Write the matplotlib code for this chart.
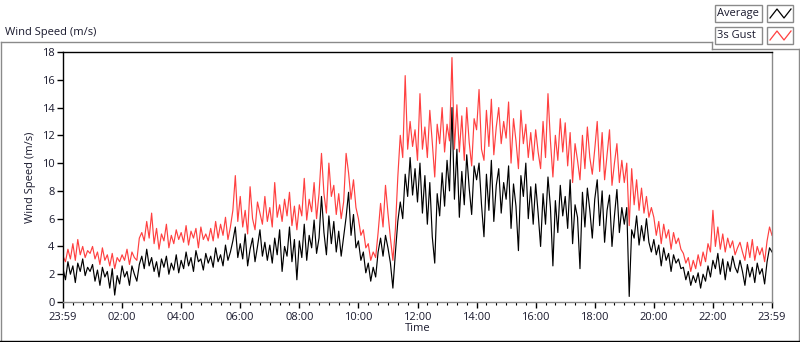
import numpy as np
import matplotlib.pyplot as plt
from matplotlib.lines import Line2D
from matplotlib.patches import Rectangle

# 5-minute samples over 24 h (one row per hour)
avg_speed = [
    2.4, 1.6, 2.9, 2.0, 2.6, 1.4, 2.8, 2.2, 3.1, 1.9, 2.5, 2.2,
    2.7, 1.5, 2.3, 1.2, 2.5, 1.8, 2.2, 1.0, 2.4, 0.5, 1.9, 1.3,
    2.6, 1.8, 2.2, 1.2, 2.6, 2.0, 1.5, 2.7, 3.3, 2.4, 3.8, 2.6,
    3.2, 2.2, 2.9, 1.8, 3.1, 2.5, 3.3, 2.0, 2.8, 2.3, 3.4, 2.1,
    3.0, 2.4, 3.6, 2.6, 3.2, 2.2, 3.7, 2.9, 3.1, 2.3, 3.5, 2.8,
    3.3, 2.5, 3.9, 2.9, 3.4, 2.6, 4.1, 3.0, 3.6, 4.4, 5.4, 3.2,
    4.2, 3.1, 4.9, 2.6, 3.8, 4.6, 2.9, 4.0, 5.2, 3.3, 4.3, 3.0,
    4.1, 2.8, 4.6, 3.4, 5.2, 2.2, 4.0, 3.3, 5.4, 2.9, 4.5, 1.6,
    4.4, 3.2, 5.6, 3.0, 4.8, 3.9, 5.9, 3.5, 4.6, 7.6, 5.0, 3.4,
    6.2, 4.2, 5.8, 3.6, 5.1, 3.3, 4.7, 6.1, 7.9, 4.8, 6.3, 3.9,
    4.4, 3.0, 3.6, 2.1, 2.8, 1.5, 2.5, 1.8, 3.6, 4.6, 3.3, 4.8,
    3.9, 2.8, 1.0, 3.5, 5.8, 7.2, 6.0, 9.2, 7.6, 10.4, 7.7, 9.6,
    7.2, 10.0, 6.4, 9.1, 5.6, 8.6, 4.7, 2.8, 7.8, 6.2, 9.3, 6.9,
    10.2, 8.0, 14.0, 7.4, 11.0, 6.1, 9.4, 7.0, 10.6, 8.2, 6.3, 9.8,
    8.8, 10.0, 7.0, 4.7, 9.2, 6.6, 10.2, 5.8, 8.4, 9.6, 6.4, 8.6,
    7.4, 9.8, 5.3, 8.5, 6.9, 3.7, 9.1, 7.6, 10.0, 6.0, 8.3, 5.6,
    8.5, 6.4, 4.0, 7.8, 5.6, 9.0, 6.8, 2.6, 7.3, 5.0, 8.4, 6.2,
    7.6, 5.3, 8.8, 4.2, 7.0, 6.1, 2.4, 7.9, 5.4, 8.2, 6.6, 4.6,
    7.4, 8.8, 5.5, 8.0, 4.3, 6.6, 7.7, 4.0, 6.2, 8.1, 5.0, 6.8,
    5.6, 6.8, 0.4, 5.2, 4.6, 6.2, 4.1, 5.5, 4.4, 6.0, 4.3, 3.6,
    4.5, 3.4, 4.1, 2.6, 3.9, 3.0, 3.5, 2.2, 3.4, 2.8, 3.1, 2.4,
    2.5, 1.6, 2.2, 1.2, 1.9, 1.4, 2.1, 1.0, 2.0, 1.5, 2.6, 1.8,
    3.0, 2.4, 3.5, 2.0, 3.1, 1.6, 2.9, 2.2, 3.3, 2.5, 2.1, 3.0,
    2.2, 1.2, 2.7, 1.8, 2.5, 1.4, 2.8, 2.0, 2.4, 1.3, 2.9, 3.9,
    3.6,
]

gust_speed = [
    3.3, 2.9, 3.8, 3.1, 4.2, 3.0, 4.5, 3.4, 4.0, 3.2, 3.7, 3.5,
    4.0, 3.1, 3.6, 2.7, 3.9, 3.0, 3.4, 2.6, 3.5, 2.4, 3.2, 2.9,
    3.4, 3.0, 3.8, 2.7, 3.6, 3.2, 3.0, 4.6, 5.0, 4.4, 5.8, 4.6,
    6.4, 4.2, 5.3, 3.8, 4.9, 4.4, 5.6, 3.9, 4.8, 4.2, 5.2, 4.5,
    5.0, 4.3, 5.5, 4.1, 5.1, 4.6, 5.3, 3.9, 5.4, 4.5, 4.9, 4.4,
    5.3, 4.4, 5.8, 4.6, 5.6, 4.8, 6.1, 4.5, 5.4, 6.6, 9.1, 5.8,
    7.6, 5.4, 6.6, 4.9, 8.3, 6.0, 5.2, 7.2, 6.4, 5.6, 7.6, 5.8,
    6.8, 5.4, 8.6, 6.1, 7.0, 5.8, 7.4, 6.2, 7.9, 5.5, 6.9, 5.2,
    7.0, 6.2, 8.9, 5.9, 7.4, 6.5, 8.6, 6.0, 7.8, 10.7, 7.8, 6.4,
    10.0, 7.6, 8.4, 6.3, 7.8, 6.0, 7.2, 10.7, 9.3, 7.4, 8.8, 6.8,
    6.0, 4.8, 5.2, 3.9, 4.2, 3.0, 3.6, 3.2, 5.0, 7.1, 5.4, 8.4,
    6.4, 4.6, 3.0, 5.2, 9.0, 12.0, 10.4, 16.3, 11.0, 13.0, 11.2, 12.4,
    10.2, 15.0, 11.0, 12.6, 10.4, 13.8, 11.5, 9.0, 12.8, 11.4, 14.0, 10.8,
    12.8, 11.6, 17.6, 11.0, 14.2, 10.8, 13.4, 10.2, 14.0, 11.5, 9.8, 13.2,
    12.4, 15.3, 11.0, 10.2, 13.8, 11.2, 14.6, 10.6, 12.6, 14.0, 11.4, 13.0,
    11.8, 14.4, 10.0, 13.2, 11.6, 9.6, 13.8, 11.4, 12.8, 10.4, 12.2, 10.2,
    12.4, 10.8, 9.6, 13.0, 10.4, 15.0, 11.6, 9.0, 12.0, 10.2, 13.2, 10.8,
    12.9, 9.8, 12.2, 8.6, 11.4, 10.2, 8.8, 12.0, 9.6, 12.6, 10.4, 9.2,
    11.0, 13.0, 9.4, 12.2, 8.8, 10.6, 12.4, 8.4, 10.0, 11.4, 8.6, 10.2,
    8.6, 10.0, 5.5, 9.6, 7.0, 8.8, 6.6, 8.2, 6.4, 7.6, 6.1, 6.8,
    6.1, 4.8, 5.8, 4.2, 5.6, 4.6, 5.2, 3.8, 5.0, 4.2, 4.6, 3.8,
    3.5, 2.8, 3.2, 2.2, 3.0, 2.4, 3.4, 2.6, 3.6, 2.9, 4.2, 3.6,
    6.6, 4.0, 5.4, 3.8, 4.9, 3.6, 4.6, 3.9, 4.4, 3.4, 3.9, 4.3,
    3.6, 3.0, 4.3, 3.2, 4.5, 3.0, 4.0, 3.4, 3.9, 2.9, 4.4, 5.4,
    4.8,
]

hour_ticks = [0, 2, 4, 6, 8, 10, 12, 14, 16, 18, 20, 22, 24]
hour_labels = ["23:59", "02:00", "04:00", "06:00", "08:00", "10:00", "12:00",
               "14:00", "16:00", "18:00", "20:00", "22:00", "23:59"]
speed_ticks = [0, 2, 4, 6, 8, 10, 12, 14, 16, 18]

plt.rcParams['font.family'] = ['Open Sans', 'DejaVu Sans']
TXT = "#1a1a2e"
GRAY = "#8a8a8a"
RED = "#ff4040"

W, H = 800, 342
fig = plt.figure(figsize=(W / 100, H / 100), dpi=100)

def fx(px):
    return px / W

def fy(py):
    return 1 - py / H

ax = fig.add_axes([fx(63), fy(302), fx(772) - fx(63), fy(52) - fy(302)])

t = np.arange(len(avg_speed)) * 5 / 60.0
ax.plot(t, gust_speed, color=RED, linewidth=0.85)
ax.plot(t, avg_speed, color="black", linewidth=0.85)

ax.set_xlim(0, 24)
ax.set_ylim(0, 18)
ax.set_xticks(hour_ticks)
ax.set_xticklabels(hour_labels)
ax.set_xticks(np.arange(0, 24.01, 1 / 3), minor=True)
ax.set_yticks(speed_ticks)
ax.tick_params(axis='both', which='major', direction='out', length=4, width=1,
               labelsize=8, labelcolor=TXT, pad=2)
ax.tick_params(axis='x', which='major', pad=3.5)
ax.tick_params(axis='x', which='minor', direction='out', length=2.5, width=0.8)

ax.spines['left'].set_color('black')
ax.spines['top'].set_color('black')
ax.spines['bottom'].set_color(GRAY)
ax.spines['right'].set_color(GRAY)
for s in ax.spines.values():
    s.set_linewidth(1)

ax.set_xlabel("Time", fontsize=8, color=TXT, labelpad=0)
ax.set_ylabel("Wind Speed (m/s)", fontsize=8, color=TXT, labelpad=4)

# title above the panel
fig.text(fx(5), fy(32), "Wind Speed (m/s)", fontsize=8, color=TXT, va='center', ha='left')

# outer frame around the graph panel
frame = [
    ([0.5, 0.5], [42, 342]),
    ([0.5, 712], [42, 42]),
    ([712, 712], [42, 49]),
    ([712, 800], [49, 49]),
    ([798.5, 798.5], [49, 342]),
]
for xs, ys in frame:
    fig.add_artist(Line2D([fx(x) for x in xs], [fy(y) for y in ys], color=GRAY, linewidth=1))
fig.add_artist(Line2D([0, 1], [fy(341), fy(341)], color="black", linewidth=1))

# legend: name boxes and line sample boxes
legend_rows = [("Average", "black", 5), ("3s Gust", RED, 27)]
for name, col, top in legend_rows:
    fig.add_artist(Rectangle((fx(715), fy(top + 17)), fx(47), fy(top) - fy(top + 17),
                             facecolor="white", edgecolor=GRAY, linewidth=1))
    fig.text(fx(717), fy(top + 8.5), name, fontsize=8, color=TXT, va='center', ha='left')
    fig.add_artist(Rectangle((fx(767), fy(top + 17)), fx(26), fy(top) - fy(top + 17),
                             facecolor="white", edgecolor=GRAY, linewidth=1))
    zx = [770, 777, 784, 791]
    zy = [top + 13, top + 4, top + 13, top + 4]
    fig.add_artist(Line2D([fx(x) for x in zx], [fy(y) for y in zy], color=col, linewidth=0.9))

fig.savefig("out.png", dpi=100)
